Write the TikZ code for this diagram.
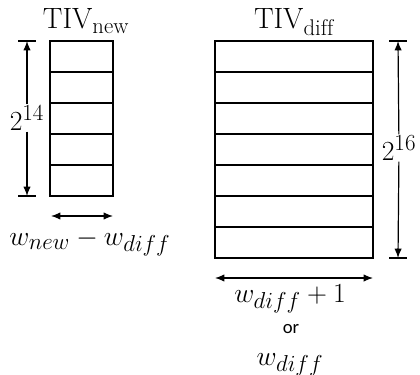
\documentclass[tikz,border=0pt]{standalone}
\usepackage{amsmath}
\usepackage{fontspec}
\newfontfamily\orfont{Carlito}
\DeclareMathSizes{22}{22}{17}{13}
\usetikzlibrary{arrows.meta}

\begin{document}
\begin{tikzpicture}[x=0.75pt,y=0.75pt,yscale=-1,xscale=1,
  tablebox/.style={line width=1.1},
  dimarrow/.style={line width=0.9,-{Latex[length=7pt,width=5.5pt]}},
  twoway/.style={line width=0.9,{Latex[length=7pt,width=5.5pt]}-{Latex[length=7pt,width=5.5pt]}},
  endbar/.style={line width=0.9},
  mathlbl/.style={inner sep=0.75pt,font=\fontsize{22}{26}\selectfont},
  titlelbl/.style={inner sep=0.75pt,anchor=base,font=\fontsize{22}{26}\selectfont}]
\useasboundingbox (0,0) rectangle (420,374);

%TIV_new table
\coordinate (newTL) at (50,41);
\coordinate (newBR) at (113,196);
\draw [tablebox] (newTL) rectangle (newBR);
\foreach \y in {72,103,134,165}
  \draw [tablebox] (50,\y) -- (113,\y);

%TIV_diff table
\coordinate (diffTL) at (215,41);
\coordinate (diffBR) at (373,258);
\draw [tablebox] (diffTL) rectangle (diffBR);
\foreach \y in {72,103,134,165,196,227}
  \draw [tablebox] (215,\y) -- (373,\y);

% Text Node
\node [titlelbl] (newTitle) at (86,29) {TIV$_{\mathrm{new}}$};
% Text Node
\node [titlelbl] (diffTitle) at (294,29) {TIV$_{\mathrm{diff}}$};

%height of TIV_new
\coordinate (newTop) at (27,41);
\coordinate (newBot) at (27,196);
\draw [endbar] (18,41) -- (36,41);
\draw [endbar] (18,196) -- (36,196);
\node [mathlbl] (newH) at (27,118) {$2^{14}$};
\draw [dimarrow] (newH) -- (newTop);
\draw [dimarrow] (newH) -- (newBot);

%height of TIV_diff
\coordinate (diffTop) at (398,41);
\coordinate (diffBot) at (398,258);
\draw [endbar] (389,41) -- (407,41);
\draw [endbar] (389,258) -- (407,258);
\node [mathlbl] (diffH) at (399,148) {$2^{16}$};
\draw [dimarrow] (diffH) -- (diffTop);
\draw [dimarrow] (diffH) -- (diffBot);

%width of TIV_new
\coordinate (newL) at (51,216);
\coordinate (newR) at (113,216);
\draw [twoway] (newL) -- (newR);
\node [mathlbl,anchor=base] (newW) at (90,245) {$w_{new}-w_{diff}$};

%width of TIV_diff
\coordinate (diffL) at (215,278);
\coordinate (diffR) at (373,278);
\draw [twoway] (diffL) -- (diffR);
\node [mathlbl,anchor=base] (diffW) at (290,302) {$w_{diff}+1$};
\node [inner sep=0.75pt,anchor=base,font=\orfont\fontsize{14}{16}\selectfont] (orText) at (291,333) {or};
\node [mathlbl,anchor=base] (diffWalt) at (290,365) {$w_{diff}$};

\end{tikzpicture}
\end{document}
